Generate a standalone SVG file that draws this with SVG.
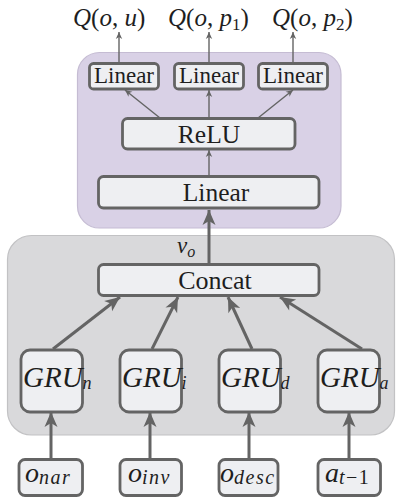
<svg xmlns="http://www.w3.org/2000/svg" width="396" height="500" viewBox="0 0 396 500">
<style>
.box{fill:#eeeff2;stroke:#646464;stroke-width:2.8}
.t{font-family:"Liberation Serif","Times New Roman",serif;fill:#1e1e1e;text-anchor:middle}
.m{font-family:"Liberation Serif","Times New Roman",serif;fill:#1e1e1e;font-style:italic}
.sub{letter-spacing:1.5px;font-size:20px}
.thin{stroke:#646464;stroke-width:1.4;fill:none}
.thick{stroke:#646464;stroke-width:3;fill:none}
</style>
<defs>
<marker id="ah" viewBox="-8 -5 9 10" markerWidth="9" markerHeight="10" refX="0" refY="0" orient="auto" markerUnits="userSpaceOnUse">
<path d="M0,0 L-7,-3.2 L-5,0 L-7,3.2 Z" fill="#646464"/>
</marker>
<marker id="AH" viewBox="-16 -8 17 16" markerWidth="17" markerHeight="16" refX="0" refY="0" orient="auto" markerUnits="userSpaceOnUse">
<path d="M0,0 L-15,-6.5 L-11,0 L-15,6.5 Z" fill="#646464"/>
</marker>
</defs>

<g id="containers">
<rect id="purple" x="77.5" y="52.5" width="263.5" height="175.5" rx="22" fill="#d9d1e6" stroke="#c5bcd3" stroke-width="1.2"/>
<rect id="gray" x="7.5" y="235.5" width="387" height="199.5" rx="24" fill="#d9d9db" stroke="#c2c2c4" stroke-width="1.2"/>
</g>

<g id="connectors">
<line class="thin" x1="119" y1="63" x2="119" y2="32" marker-end="url(#ah)"/>
<line class="thin" x1="209" y1="63" x2="209" y2="32" marker-end="url(#ah)"/>
<line class="thin" x1="293" y1="63" x2="293" y2="32" marker-end="url(#ah)"/>
<line class="thin" x1="160" y1="118" x2="125" y2="90" marker-end="url(#ah)"/>
<line class="thin" x1="209" y1="118" x2="209" y2="90" marker-end="url(#ah)"/>
<line class="thin" x1="258" y1="118" x2="293" y2="90" marker-end="url(#ah)"/>
<line class="thin" x1="209" y1="176" x2="209" y2="150" marker-end="url(#ah)"/>
<line class="thick" x1="209" y1="263" x2="209" y2="210" marker-end="url(#AH)"/>
<line class="thick" x1="53" y1="349" x2="120" y2="297" marker-end="url(#AH)"/>
<line class="thick" x1="152" y1="349" x2="178" y2="297" marker-end="url(#AH)"/>
<line class="thick" x1="252" y1="349" x2="228" y2="297" marker-end="url(#AH)"/>
<line class="thick" x1="362" y1="349" x2="280" y2="297" marker-end="url(#AH)"/>
<line class="thick" x1="51" y1="459" x2="51" y2="412" marker-end="url(#AH)"/>
<line class="thick" x1="150" y1="459" x2="150" y2="412" marker-end="url(#AH)"/>
<line class="thick" x1="249" y1="459" x2="249" y2="412" marker-end="url(#AH)"/>
<line class="thick" x1="349" y1="459" x2="349" y2="412" marker-end="url(#AH)"/>
</g>

<g id="outputs">
<text id="q1" class="m" x="73" y="26" font-size="25">Q<tspan font-style="normal">(</tspan>o<tspan font-style="normal">,</tspan> u<tspan font-style="normal">)</tspan></text>
<text id="q2" class="m" x="168" y="26" font-size="25">Q<tspan font-style="normal">(</tspan>o<tspan font-style="normal">,</tspan> p<tspan font-style="normal" font-size="17" dy="4">1</tspan><tspan font-style="normal" dy="-4">)</tspan></text>
<text id="q3" class="m" x="272" y="26" font-size="25">Q<tspan font-style="normal">(</tspan>o<tspan font-style="normal">,</tspan> p<tspan font-style="normal" font-size="17" dy="4">2</tspan><tspan font-style="normal" dy="-4">)</tspan></text>
</g>

<g id="lin1"><rect class="box" x="89.5" y="63.5" width="69" height="25.5" rx="4"/><text class="t" x="124" y="83" font-size="23">Linear</text></g>
<g id="lin2"><rect class="box" x="174.5" y="63.5" width="69" height="25.5" rx="4"/><text class="t" x="209" y="83" font-size="23">Linear</text></g>
<g id="lin3"><rect class="box" x="258.5" y="63.5" width="69" height="25.5" rx="4"/><text class="t" x="293" y="83" font-size="23">Linear</text></g>

<g id="relu"><rect class="box" x="122.5" y="118.5" width="172.5" height="30.5" rx="5"/><text class="t" x="209" y="143" font-size="25.5">ReLU</text></g>
<g id="linear"><rect class="box" x="98.5" y="176.5" width="220.5" height="31.5" rx="5"/><text class="t" x="216" y="201" font-size="25.5">Linear</text></g>

<text id="nu" class="m" x="177" y="253" font-size="23">ν<tspan font-size="16" dy="4">o</tspan></text>

<g id="concat"><rect class="box" x="98.5" y="264.5" width="220.5" height="31" rx="5"/><text class="t" x="215" y="289" font-size="26">Concat</text></g>

<g id="grun"><rect class="box" x="21" y="350" width="61.5" height="62" rx="9"/><text class="m" x="23" y="387" font-size="29">GRU<tspan font-size="18" dy="2">n</tspan></text></g>
<g id="grui"><rect class="box" x="120" y="350" width="61.5" height="62" rx="9"/><text class="m" x="122" y="387" font-size="29">GRU<tspan font-size="18" dy="2">i</tspan></text></g>
<g id="grud"><rect class="box" x="219" y="350" width="61.5" height="62" rx="9"/><text class="m" x="221" y="387" font-size="29">GRU<tspan font-size="18" dy="2">d</tspan></text></g>
<g id="grua"><rect class="box" x="318" y="350" width="61.5" height="62" rx="9"/><text class="m" x="320" y="387" font-size="29">GRU<tspan font-size="18" dy="2">a</tspan></text></g>

<g id="onar"><rect class="box" x="19" y="459.5" width="63.5" height="36" rx="6"/><text class="m" x="25" y="482" font-size="28">o<tspan class="sub" dy="2">nar</tspan></text></g>
<g id="oinv"><rect class="box" x="120" y="459.5" width="61.5" height="36" rx="6"/><text class="m" x="128" y="482" font-size="28">o<tspan class="sub" dy="2">inv</tspan></text></g>
<g id="odesc"><rect class="box" x="219" y="459.5" width="59" height="36" rx="6"/><text class="m" x="220" y="482" font-size="28">o<tspan class="sub" dy="2">desc</tspan></text></g>
<g id="at1"><rect class="box" x="318" y="459.5" width="62.5" height="36" rx="6"/><text class="m" x="325" y="482" font-size="28">a<tspan class="sub" dy="2">t</tspan><tspan class="sub" font-style="normal">−1</tspan></text></g>
</svg>
